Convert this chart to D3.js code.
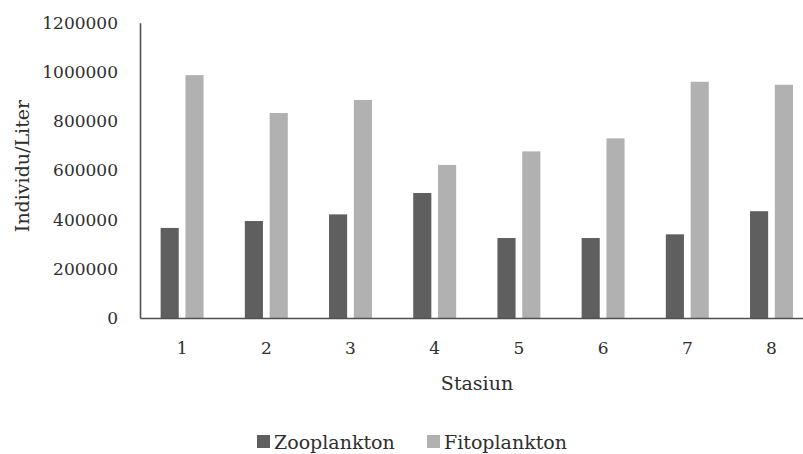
<!DOCTYPE html>
<html>
<head>
<meta charset="utf-8">
<script src="https://cdn.jsdelivr.net/npm/d3@7"></script>
<style>
  html, body { margin: 0; padding: 0; background: #fff; }
  svg { display: block; }
  text { font-family: "DejaVu Serif", serif; fill: #2e2e2e; }
</style>
</head>
<body>
<script>
const categories = ["1", "2", "3", "4", "5", "6", "7", "8"];
const seriesNames = ["Zooplankton", "Fitoplankton"];
const zooplankton = [366000, 394000, 421000, 508000, 325000, 325000, 340000, 434000];
const fitoplankton = [987000, 833000, 886000, 622000, 677000, 730000, 960000, 948000];
const yTicks = [0, 200000, 400000, 600000, 800000, 1000000, 1200000];
const colors = ["#5f5f5f", "#b1b1b1"];

(function () {
const W = 803, H = 454;
const plotLeft = 140, plotTop = 22.7, plotBottom = 318, plotRight = 813.6;

const svg = d3.select("body").append("svg").attr("width", W).attr("height", H);

const x = d3.scaleBand().domain(categories).range([plotLeft, plotRight])
  .paddingInner(0.49).paddingOuter(0.245);
const xSub = d3.scaleBand().domain(seriesNames).range([0, x.bandwidth()]).paddingInner(0.27);
const y = d3.scaleLinear().domain([0, 1200000]).range([plotBottom, plotTop]);

const data = categories.map((c, i) => ({ cat: c, values: [zooplankton[i], fitoplankton[i]] }));

// bars
const g = svg.append("g");
data.forEach(d => {
  seriesNames.forEach((s, j) => {
    g.append("rect")
      .attr("x", x(d.cat) + xSub(s))
      .attr("y", y(d.values[j]))
      .attr("width", xSub.bandwidth())
      .attr("height", y(0) - y(d.values[j]))
      .attr("fill", colors[j]);
  });
});

// y axis
const yAxis = d3.axisLeft(y).tickValues(yTicks).tickSize(0).tickPadding(22).tickFormat(d3.format("d"));
const ya = svg.append("g").attr("transform", `translate(${plotLeft},0)`).call(yAxis);
ya.select(".domain").attr("stroke", "#505050").attr("stroke-width", 1.6);
ya.selectAll("text").style("font-size", "17px").attr("fill", "#2e2e2e").style("font-family", "DejaVu Serif, serif");

// x axis
const xAxis = d3.axisBottom(x).tickSize(0).tickPadding(24);
const xa = svg.append("g").attr("transform", `translate(0,${plotBottom})`).call(xAxis);
xa.select(".domain").attr("stroke", "#505050").attr("stroke-width", 1.6);
xa.selectAll("text").style("font-size", "17px").attr("fill", "#2e2e2e").style("font-family", "DejaVu Serif, serif");

// axis titles
svg.append("text").attr("x", 477).attr("y", 383).attr("dy", "0.35em")
  .attr("text-anchor", "middle").style("font-size", "19px").text("Stasiun");
svg.append("text").attr("transform", "translate(22,166) rotate(-90)").attr("dy", "0.35em")
  .attr("text-anchor", "middle").style("font-size", "19px").text("Individu/Liter");

// legend
const legendX = [257, 427];
seriesNames.forEach((s, j) => {
  svg.append("rect").attr("x", legendX[j]).attr("y", 435).attr("width", 13).attr("height", 13).attr("fill", colors[j]);
  svg.append("text").attr("x", legendX[j] + 17).attr("y", 442).attr("dy", "0.35em")
    .style("font-size", "19px").text(s);
});
})();
</script>
</body>
</html>
